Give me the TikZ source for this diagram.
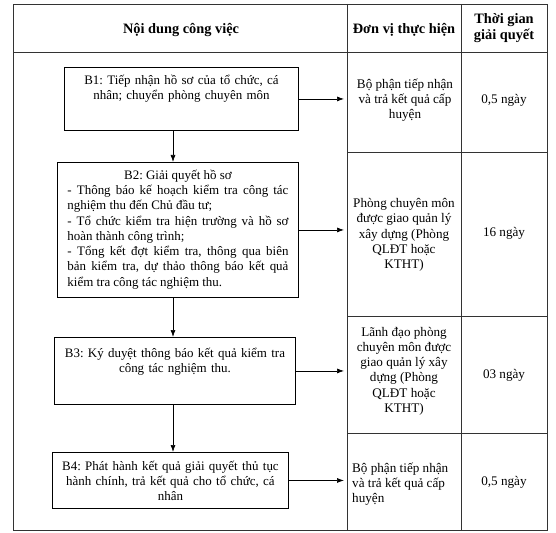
\documentclass[tikz,border=0pt]{standalone}
\usepackage{fontspec}
\setmainfont{Liberation Serif}
\usetikzlibrary{arrows.meta,positioning}

\tikzset{
  stepbox/.style={draw, line width=0.9bp, anchor=north west, inner ysep=0bp,
    font=\fontsize{13}{15.3}\selectfont},
  celltext/.style={inner sep=0bp, align=center, font=\fontsize{13.2}{15.3}\selectfont},
  headtext/.style={inner sep=0bp, align=center, font=\fontsize{14.4}{15.5}\selectfont\bfseries},
  flow/.style={-{Latex[length=7bp,width=5bp]}, line width=0.7bp},
  grid/.style={line width=0.8bp, draw=black!80}
}

\begin{document}
\frenchspacing
\begin{tikzpicture}[x=1bp, y=-1bp]
  \useasboundingbox (0,0) rectangle (556,533);
  % table
  \draw[grid] (13,4) rectangle (547,530);
  \draw[grid] (13,52) -- (547,52);
  \draw[grid] (347,4) -- (347,530);
  \draw[grid] (461,4) -- (461,530);
  \draw[grid] (347,152) -- (547,152);
  \draw[grid] (347,316) -- (547,316);
  \draw[grid] (347,433) -- (547,433);
  \coordinate (div) at (347,0);
  \coordinate (spine) at (173,0);
  % header
  \node[headtext] (h1) at (181,30) {Nội dung công việc};
  \node[headtext] (h2) at (404,30) {Đơn vị thực hiện};
  \node[headtext] (h3) at (504,28) {Thời gian\\giải quyết};
  % steps
  \node[stepbox, text width=222bp, inner xsep=6bp, align=center,
        text height=17bp, text depth=46bp] (b1) at (64,67)
    {B1: Tiếp nhận hồ sơ của tổ chức, cá\\nhân; chuyển phòng chuyên môn};
  \node[stepbox, text width=221bp, inner xsep=10bp, align=justify,
        text height=17bp, text depth=118bp] (b2) at (57,162)
    {{\centering B2: Giải quyết hồ sơ\par}
     - Thông báo kế hoạch kiểm tra công tác\linebreak
     nghiệm thu đến Chủ đầu tư;\par
     - Tổ chức kiểm tra hiện trường và hồ sơ\linebreak
     hoàn thành công trình;\par
     - Tổng kết đợt kiểm tra, thông qua biên\linebreak
     bản kiểm tra, dự thảo thông báo kết quả\linebreak
     kiểm tra công tác nghiệm thu.};
  \node[stepbox, text width=229bp, inner xsep=6bp, align=center,
        text height=20bp, text depth=47bp] (b3) at (54,337)
    {B3: Ký duyệt thông báo kết quả kiểm tra\\công tác nghiệm thu.};
  \node[stepbox, text width=224bp, inner xsep=6bp, align=center,
        text height=18bp, text depth=38bp] (b4) at (52,452)
    {B4: Phát hành kết quả giải quyết thủ tục\\hành chính, trả kết quả cho tổ chức, cá\\nhân};
  % units
  \node[celltext] (u1) at (405,100) {Bộ phận tiếp nhận\\và trả kết quả cấp\\huyện};
  \node[celltext] (u2) at (404,235) {Phòng chuyên môn\\được giao quản lý\\xây dựng (Phòng\\QLĐT hoặc\\KTHT)};
  \node[celltext] (u3) at (404,371) {Lãnh đạo phòng\\chuyên môn được\\giao quản lý xây\\dựng (Phòng\\QLĐT hoặc\\KTHT)};
  \node[celltext, anchor=west, align=left] (u4) at (352,484) {Bộ phận tiếp nhận\\và trả kết quả cấp\\huyện};
  % times
  \node[celltext] (t1) at (504,100) {0,5 ngày};
  \node[celltext] (t2) at (504,233) {16 ngày};
  \node[celltext] (t3) at (504,375) {03 ngày};
  \node[celltext] (t4) at (504,482) {0,5 ngày};
  % arrows
  \draw[flow] (b1.south -| spine) -- (b2.north -| spine);
  \draw[flow] (b2.south -| spine) -- (b3.north -| spine);
  \draw[flow] (b3.south -| spine) -- (b4.north -| spine);
  \draw[flow, shorten >=3bp] (b1.east) -- (b1.east -| div);
  \draw[flow, shorten >=3bp] (b2.east) -- (b2.east -| div);
  \draw[flow, shorten >=3bp] (b3.east) -- (b3.east -| div);
  \draw[flow, shorten >=3bp] (b4.east) -- (b4.east -| div);
\end{tikzpicture}
\end{document}
